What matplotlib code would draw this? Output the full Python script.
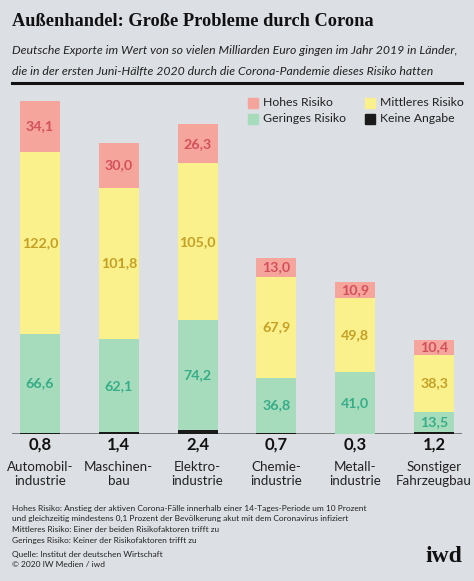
import matplotlib
matplotlib.use("Agg")
import matplotlib.pyplot as plt
from matplotlib.patches import Rectangle
from matplotlib.lines import Line2D

categories = ["Automobil-\nindustrie", "Maschinen-\nbau", "Elektro-\nindustrie",
              "Chemie-\nindustrie", "Metall-\nindustrie", "Sonstiger\nFahrzeugbau"]
keine_angabe = [0.8, 1.4, 2.4, 0.7, 0.3, 1.2]
geringes = [66.6, 62.1, 74.2, 36.8, 41.0, 13.5]
mittleres = [122.0, 101.8, 105.0, 67.9, 49.8, 38.3]
hohes = [34.1, 30.0, 26.3, 13.0, 10.9, 10.4]

def fmt(v):
    return f"{v:.1f}".replace(".", ",")

W, H = 474, 581
BG = "#dcdfe3"
C_RED, C_YEL, C_GRN, C_BLK = "#f5a59b", "#faf08c", "#a6dcbc", "#1a1a1a"
T_RED, T_YEL, T_GRN = "#d4505c", "#c4a025", "#36ad88"
FONT = "Lato"

fig = plt.figure(figsize=(W / 100, H / 100), dpi=100)
fig.patch.set_facecolor(BG)

def px(x, y):
    return x / W, 1 - y / H

# Title
fig.text(*px(12, 22), "Außenhandel: Große Probleme durch Corona", family="Liberation Serif",
         weight="bold", fontsize=13.2, va="center", ha="left", color="#111111")
fig.text(*px(12, 51), "Deutsche Exporte im Wert von so vielen Milliarden Euro gingen im Jahr 2019 in Länder,",
         family=FONT, style="italic", fontsize=8.8, va="center", ha="left", color="#222222")
fig.text(*px(12, 71), "die in der ersten Juni-Hälfte 2020 durch die Corona-Pandemie dieses Risiko hatten",
         family=FONT, style="italic", fontsize=8.8, va="center", ha="left", color="#222222")
fig.add_artist(Line2D([12 / W, 462 / W], [1 - 83 / H, 1 - 83 / H], color="#111111", lw=2.2))

# Axes: baseline at y=434, top at y=100
ax_left, ax_right, ax_top, ax_bot = 12, 462, 100, 434
ax = fig.add_axes([ax_left / W, 1 - ax_bot / H, (ax_right - ax_left) / W, (ax_bot - ax_top) / H])
ax.set_facecolor("none")
ppu = 1.49
ax.set_ylim(0, (ax_bot - ax_top) / ppu)
ax.set_xlim(-28 / 79, 5 + 28 / 79)
for s in ax.spines.values():
    s.set_visible(False)
ax.set_xticks([])
ax.set_yticks([])

x = list(range(len(categories)))
w = 40 / 79
b1 = keine_angabe
b2 = [a + b for a, b in zip(b1, geringes)]
b3 = [a + b for a, b in zip(b2, mittleres)]
ax.bar(x, keine_angabe, width=w, color=C_BLK, label="Keine Angabe")
ax.bar(x, geringes, width=w, bottom=b1, color=C_GRN, label="Geringes Risiko")
ax.bar(x, mittleres, width=w, bottom=b2, color=C_YEL, label="Mittleres Risiko")
ax.bar(x, hohes, width=w, bottom=b3, color=C_RED, label="Hohes Risiko")
ax.axhline(0, color="#666666", lw=1.2, zorder=0.5)

for i in x:
    ax.text(i, b1[i] + geringes[i] / 2, fmt(geringes[i]), ha="center", va="center",
            color=T_GRN, fontsize=10.3, weight="bold", family=FONT)
    ax.text(i, b2[i] + mittleres[i] / 2, fmt(mittleres[i]), ha="center", va="center",
            color=T_YEL, fontsize=10.3, weight="bold", family=FONT)
    ax.text(i, b3[i] + hohes[i] / 2, fmt(hohes[i]), ha="center", va="center",
            color=T_RED, fontsize=10.3, weight="bold", family=FONT)
    ax.text(i, -11 / ppu, fmt(keine_angabe[i]), ha="center", va="center",
            color="#111111", fontsize=12, weight="bold", family=FONT, clip_on=False)
    ax.text(i, -40 / ppu, categories[i], ha="center", va="center", linespacing=1.15,
            color="#222222", fontsize=9.6, family=FONT, clip_on=False)

# Legend (manual, figure coords)
leg = [(253, 103, C_RED, "Hohes Risiko"), (370, 103, C_YEL, "Mittleres Risiko"),
       (253, 119, C_GRN, "Geringes Risiko"), (370, 119, C_BLK, "Keine Angabe")]
for lx, ly, c, t in leg:
    fig.add_artist(Rectangle(((lx - 5) / W, 1 - (ly + 5) / H), 10 / W, 10 / H, color=c,
                             transform=fig.transFigure))
    fig.text((lx + 10) / W, 1 - ly / H, t, family=FONT, fontsize=8.8, va="center",
             ha="left", color="#222222")

# Footnotes
notes = ["Hohes Risiko: Anstieg der aktiven Corona-Fälle innerhalb einer 14-Tages-Periode um 10 Prozent",
         "und gleichzeitig mindestens 0,1 Prozent der Bevölkerung akut mit dem Coronavirus infiziert",
         "Mittleres Risiko: Einer der beiden Risikofaktoren trifft zu",
         "Geringes Risiko: Keiner der Risikofaktoren trifft zu"]
for k, t in enumerate(notes):
    fig.text(*px(12, 508 + 10.7 * k), t, family=FONT, fontsize=6.05, va="center", ha="left", color="#222222")
fig.text(*px(12, 554), "Quelle: Institut der deutschen Wirtschaft", family=FONT, fontsize=6.05,
         va="center", ha="left", color="#222222")
fig.text(*px(12, 564.5), "© 2020 IW Medien / iwd", family=FONT, fontsize=6.05,
         va="center", ha="left", color="#222222")
fig.text(*px(462, 556), "iwd", family="Liberation Serif", weight="bold", fontsize=17,
         va="center", ha="right", color="#111111")

fig.savefig("out.png", dpi=100, facecolor=BG)
